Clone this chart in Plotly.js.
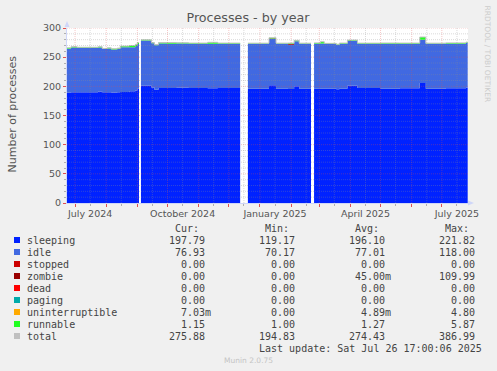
<!DOCTYPE html>
<html><head><meta charset="utf-8">
<script src="https://cdn.plot.ly/plotly-3.0.1.min.js"></script>
<style>html,body{margin:0;padding:0;background:#f0f0f0;}</style>
</head><body>
<div id="chart" style="width:497px;height:371px"></div>
<script>
// ---- data ----
const dates = [
 '2024-06-23','2024-06-27','2024-07-03','2024-07-24','2024-07-28','2024-08-02','2024-08-06','2024-08-12','2024-08-15','2024-08-24','2024-08-30','2024-09-01','2024-09-02 14:00','2024-09-02 15:00',
 '2024-09-04 14:00','2024-09-15','2024-09-18','2024-09-22','2024-10-01','2024-10-10','2024-10-22','2024-11-10','2024-11-20','2024-12-12 06:00','2024-12-12 07:00',
 '2024-12-20','2025-01-10','2025-01-17','2025-01-29','2025-02-04','2025-02-09','2025-02-20 18:00','2025-02-20 19:00',
 '2025-02-23 20:00','2025-03-02','2025-03-06','2025-03-18','2025-03-21','2025-03-29','2025-04-08','2025-05-01','2025-05-20','2025-06-09','2025-06-15','2025-07-05','2025-07-25','2025-07-26 17:00'
];
const sleeping = [189.5,190,190,191,190,190,189.5,190,190.5,191.5,193,196,196,null,
 201,198,194,197,197,197.5,197,196.5,197,197,null,
 196,202,196,195.5,200,196,196,null,
 196,196,196,195,196,201,197,196,196.5,205.5,196,196.5,197.8,197.8];
const idle = [75,76.5,75.8,75.5,73.8,74.8,73.8,74,76.5,75.5,76,76.5,76.5,null,
 77.5,76,76.5,76.5,76,76,76,76.5,76,76,null,
 76.8,79.3,76.8,76,77.5,76.8,76.8,null,
 77,77.5,76.5,76,77,77,75.8,76.8,76.5,74.5,76.8,76.5,76.9,76.9];
const zombie = [0,0,0,0,0,0,0,0,0,0,0,0,0,null,
 0,0,0,0,0,0,0,0,0,0,null,
 0,0.8,0,1.5,0,0,0,null,
 0,0,0,0,0,0,0,0,0,0,0,0,0,0];
const runnable = [1.5,1.5,1.2,1.5,1.2,1.2,1.2,1.5,2,3,3,2.5,2.5,null,
 1.2,1,1.2,1.5,2,1.2,1.2,2.5,1.2,1.2,null,
 1.2,1.2,1.2,1.2,1.3,1.2,1.2,null,
 1.5,3,1.2,1.2,1.2,1.3,1.3,1.5,1.2,4.5,1.2,1.5,1.15,1.15];

const yTicks = [0,50,100,150,200,250,300];
const monthStarts = ['2024-07-01','2024-08-01','2024-09-01','2024-10-01','2024-11-01','2024-12-01','2025-01-01','2025-02-01','2025-03-01','2025-04-01','2025-05-01','2025-06-01','2025-07-01'];
const midMonths = ['2024-07-16','2024-08-16','2024-09-16','2024-10-16','2024-11-16','2024-12-16','2025-01-16','2025-02-16','2025-03-16','2025-04-16','2025-05-16','2025-06-16','2025-07-16'];
const midMonthLabels = ['July 2024','','','October 2024','','','January 2025','','','April 2025','','','July 2025'];

const legendNames = ['sleeping','idle','stopped','zombie','dead','paging','uninterruptible','runnable','total'];
const legendColors = ['#0022ff','#4169e1','#cc0000','#990000','#ff0000','#00aaaa','#ffaa00','#22ff22','#c0c0c0'];
const curVals = ['197.79','76.93','0.00','0.00','0.00','0.00','7.03m','1.15','275.88'];
const minVals = ['119.17','70.17','0.00','0.00','0.00','0.00','0.00','1.00','194.83'];
const avgVals = ['196.10','77.01','0.00','45.00m','0.00','0.00','4.89m','1.27','274.43'];
const maxVals = ['221.82','118.00','0.00','109.99','0.00','0.00','4.80','5.87','386.99'];
const lastUpdate = 'Last update: Sat Jul 26 17:00:06 2025';

// ---- layout geometry ----
const W = 497, H = 371, ML = 67, MR = 29, MT = 28, MB = 168;
const PW = W - ML - MR, PH = H - MT - MB;
const px = v => (v - ML) / PW;
const py = v => (H - MB - v) / PH;

const total = dates.map((d, i) => sleeping[i] == null ? null : sleeping[i] + idle[i] + zombie[i] + runnable[i]);

function area(name, y, color) {
  return {type:'scatter', mode:'lines', x:dates, y:y, name:name, stackgroup:'s',
    line:{width:0, shape:'hv', color:color}, fillcolor:color, hoverinfo:'skip'};
}
const traces = [
  area('sleeping', sleeping, '#0022ff'),
  area('idle', idle, '#4169e1'),
  area('zombie', zombie, '#990000'),
  area('runnable', runnable, '#22ff22'),
  {type:'scatter', mode:'lines', x:dates, y:total, name:'total', line:{width:1, shape:'hv', color:'#c0c0c0'}, connectgaps:false, hoverinfo:'skip'}
];

const shapes = [];
const minorGrid = 'rgba(143,143,143,0.32)', majorGrid = 'rgba(224,80,80,0.32)';
for (let v = 10; v < 300; v += 10) {
  if (v % 50 === 0) continue;
  shapes.push({type:'line', layer:'above', xref:'paper', x0:0, x1:1, yref:'y', y0:v, y1:v, line:{color:minorGrid, width:1, dash:'1px,1px'}});
}
yTicks.forEach(v => { if (v > 0) shapes.push({type:'line', layer:'above', xref:'paper', x0:0, x1:1, yref:'y', y0:v, y1:v, line:{color:majorGrid, width:1, dash:'1px,1px'}}); });
midMonths.forEach(d => shapes.push({type:'line', layer:'above', xref:'x', x0:d, x1:d, yref:'paper', y0:0, y1:1, line:{color:minorGrid, width:1, dash:'1px,1px'}}));
monthStarts.forEach(d => shapes.push({type:'line', layer:'above', xref:'x', x0:d, x1:d, yref:'paper', y0:0, y1:1, line:{color:majorGrid, width:1, dash:'1px,1px'}}));
// axis arrows
const arrowCol = '#cfd6f8';
shapes.push({type:'path', xref:'paper', yref:'paper', path:`M ${px(64.5)} ${py(27)} L ${px(69.5)} ${py(27)} L ${px(67)} ${py(21)} Z`, fillcolor:arrowCol, line:{width:0}});
shapes.push({type:'path', xref:'paper', yref:'paper', path:`M ${px(468)} ${py(200.5)} L ${px(468)} ${py(205.5)} L ${px(474)} ${py(203)} Z`, fillcolor:arrowCol, line:{width:0}});

const ann = [];
const mono = {family:'DejaVu Sans Mono', size:10, color:'#444'};
const NB = '\u00a0';
const suf = s => /m$/.test(s) ? s : s + NB;
// header
[['Cur:',200],['Min:',290],['Avg:',380],['Max:',470]].forEach(([t,x]) => ann.push({text:t, xref:'paper', yref:'paper', x:px(x), y:py(228), xanchor:'right', yanchor:'middle', showarrow:false, borderpad:0, font:mono}));
legendNames.forEach((n, i) => {
  const yc = 240 + i * 12;
  ann.push({text:n, xref:'paper', yref:'paper', x:px(26), y:py(yc), xanchor:'left', yanchor:'middle', showarrow:false, borderpad:0, font:mono});
  [[curVals,212],[minVals,302],[avgVals,392],[maxVals,482]].forEach(([arr,x]) => ann.push({text:suf(arr[i]), xref:'paper', yref:'paper', x:px(x), y:py(yc), xanchor:'right', yanchor:'middle', showarrow:false, borderpad:0, font:mono}));
  shapes.push({type:'rect', xref:'paper', yref:'paper', x0:px(14), x1:px(20), y0:py(yc+3), y1:py(yc-3), fillcolor:legendColors[i], line:{width:0}});
});
ann.push({text:lastUpdate, xref:'paper', yref:'paper', x:px(483), y:py(348), xanchor:'right', yanchor:'middle', showarrow:false, borderpad:0, font:mono});
ann.push({text:'Munin 2.0.75', xref:'paper', yref:'paper', x:px(248), y:py(360.5), xanchor:'center', yanchor:'middle', showarrow:false, borderpad:0, font:{family:'DejaVu Sans', size:7.5, color:'#c4c4c4'}});
ann.push({text:'Number of processes', xref:'paper', yref:'paper', x:px(12), y:py(114.5), xanchor:'center', yanchor:'middle', textangle:-90, showarrow:false, borderpad:0, font:{family:'DejaVu Sans', size:11, color:'#555'}});
ann.push({text:'RRDTOOL / TOBI OETIKER', xref:'paper', yref:'paper', x:px(487), y:py(53.5), xanchor:'center', yanchor:'middle', textangle:90, showarrow:false, borderpad:0, font:{family:'DejaVu Sans', size:7.5, color:'#cccccc'}});

const layout = {
  width:W, height:H, margin:{l:ML, r:MR, t:MT, b:MB, pad:0},
  paper_bgcolor:'#f0f0f0', plot_bgcolor:'#ffffff', showlegend:false,
  title:{text:'Processes - by year', font:{family:'DejaVu Sans', size:12.7, color:'#555'}, xref:'container', yref:'container', x:248/W, xanchor:'center', y:1-18/H, yanchor:'middle'},
  xaxis:{type:'date', range:['2024-06-23','2025-07-27'], showgrid:false, zeroline:false, showline:true, linecolor:'#cfd6f8', linewidth:1,
    tickmode:'array', tickvals:midMonths, ticktext:midMonthLabels, ticks:'outside', ticklen:2, tickcolor:'#b0b0b0',
    tickfont:{family:'DejaVu Sans', size:9.5, color:'#555'},
    minor:{tickmode:'array', tickvals:monthStarts, ticks:'outside', ticklen:3, tickcolor:'#e05050', showgrid:false}, fixedrange:true},
  yaxis:{range:[0,300], showgrid:false, zeroline:false, showline:true, linecolor:'#cfd6f8', linewidth:1,
    tickmode:'array', tickvals:yTicks, ticks:'outside', ticklen:3, tickcolor:'#e05050',
    tickfont:{family:'DejaVu Sans', size:9.5, color:'#555'},
    minor:{dtick:10, ticks:'outside', ticklen:2, tickcolor:'#b0b0b0', showgrid:false}, fixedrange:true},
  shapes:shapes, annotations:ann, hovermode:false
};
Plotly.newPlot('chart', traces, layout, {displayModeBar:false, staticPlot:true});
</script>
</body></html>
